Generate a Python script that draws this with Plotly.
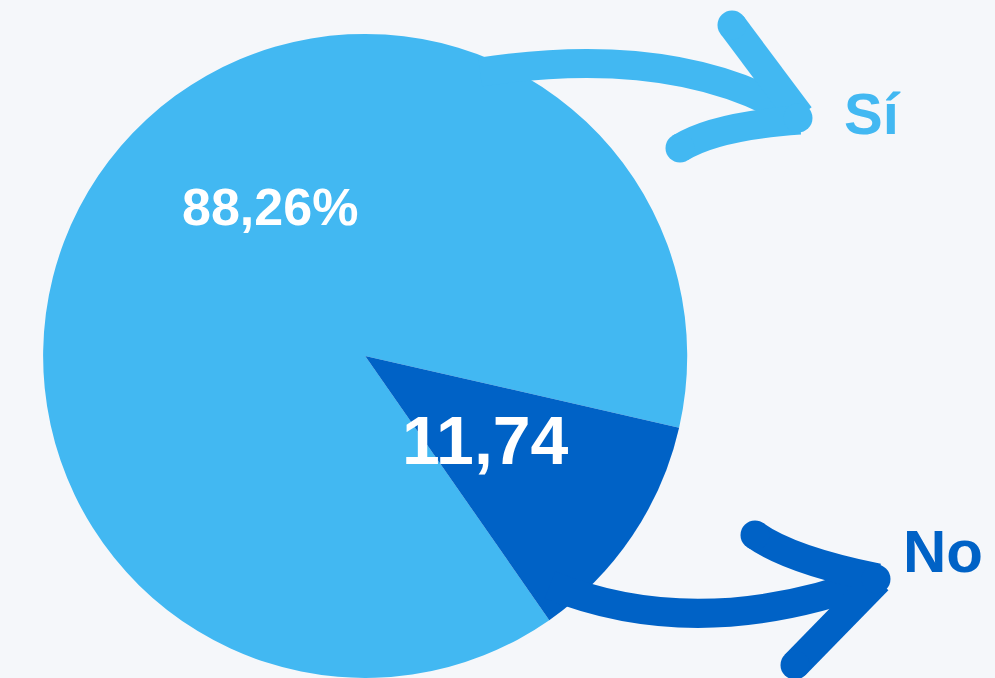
import plotly.graph_objects as go

# datos
categorias = ["Sí", "No"]
porcentajes = [88.26, 11.74]
etiquetas = ["88,26%", "11,74"]
colores = ["#42B8F2", "#0062C6"]

W, H = 995, 678
fondo = "#F5F7FA"

# el trozo "No" centrado hacia las 4 en punto (~124 grados)
rotacion = 124 + porcentajes[1] * 3.6 / 2

fig = go.Figure()
fig.add_trace(go.Pie(
    labels=categorias,
    values=porcentajes,
    marker=dict(colors=colores, line=dict(width=0)),
    sort=False,
    direction="clockwise",
    rotation=rotacion,
    textinfo="none",
    hoverinfo="label+value",
    domain=dict(x=[0.042, 0.692], y=[0.0, 0.95]),
    showlegend=False,
))

# ejes invisibles en pixeles para las flechas y los textos
fig.update_xaxes(range=[0, W], visible=False, fixedrange=True)
fig.update_yaxes(range=[H, 0], visible=False, fixedrange=True)

def trazo(path, color, ancho=29):
    fig.add_shape(type="path", path=path, xref="x", yref="y",
                  line=dict(color=color, width=ancho))

def punta(x, y, color, r=14.5):
    fig.add_shape(type="circle", xref="x", yref="y",
                  x0=x - r, x1=x + r, y0=y - r, y1=y + r,
                  fillcolor=color, line=dict(width=0))

# flecha "Sí"
c1 = colores[0]
trazo("M 480,72 Q 680,42 800,118", c1)
trazo("M 732,25 L 800,116", c1)
trazo("M 680,148 Q 715,126 800,120", c1)
for px_, py_ in [(732, 25), (680, 148), (798, 118)]:
    punta(px_, py_, c1)

# flecha "No"
c2 = colores[1]
trazo("M 550,585 Q 700,645 878,578", c2)
trazo("M 755,535 Q 790,560 878,578", c2)
trazo("M 795,665 L 878,580", c2)
for px_, py_ in [(755, 535), (795, 665), (876, 579)]:
    punta(px_, py_, c2)

fuente = "Liberation Sans, Arial, sans-serif"
fig.add_annotation(x=270, y=207, text=etiquetas[0], showarrow=False, xref="x", yref="y",
                   font=dict(family=fuente, size=52, color="white", weight="bold"))
fig.add_annotation(x=485, y=440, text=etiquetas[1], showarrow=False, xref="x", yref="y",
                   font=dict(family=fuente, size=68, color="white", weight="bold"))
fig.add_annotation(x=872, y=113, text=categorias[0], showarrow=False, xref="x", yref="y",
                   font=dict(family=fuente, size=58, color=c1, weight="bold"))
fig.add_annotation(x=943, y=551, text=categorias[1], showarrow=False, xref="x", yref="y",
                   font=dict(family=fuente, size=60, color=c2, weight="bold"))

fig.update_layout(
    width=W, height=H,
    margin=dict(l=0, r=0, t=0, b=0),
    paper_bgcolor=fondo,
    plot_bgcolor=fondo,
)

# quitar el margen blanco del body de la pagina
fig.write_html(
    "out.html",
    config={"displayModeBar": False},
    post_script="document.body.style.margin='0';"
                "document.body.style.overflow='hidden';"
                "document.body.style.background='" + fondo + "';",
)
